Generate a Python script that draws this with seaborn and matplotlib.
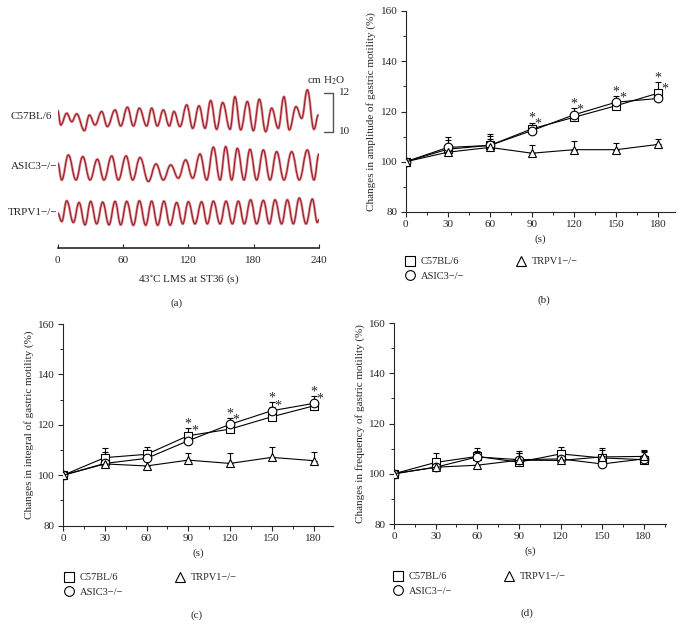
# Registro de motilidad gastrica y cambios porcentuales (a)-(d)

import numpy as np
import pandas as pd
import seaborn as sns
import matplotlib.pyplot as plt
from matplotlib.path import Path
from matplotlib.patches import PathPatch
from matplotlib.lines import Line2D

# ---- datos ----
cepas = ["C57BL/6", "ASIC3\u2212/\u2212", "TRPV1\u2212/\u2212"]
marcadores = {cepas[0]: "s", cepas[1]: "o", cepas[2]: "^"}
tiempos = [0, 30, 60, 90, 120, 150, 180]
estrellas = [90, 120, 150, 180]

# (b) amplitud
amp_c57 = [100, 105.0, 106.5, 113.1, 117.7, 122.3, 127.3]
amp_asic3 = [100, 105.7, 106.5, 112.4, 118.7, 123.7, 125.2]
amp_trpv1 = [100, 103.8, 105.7, 103.4, 104.8, 104.8, 106.9]
amp_err_c57 = [0, 3.7, 3.8, 2.5, 2.3, 2.7, 4.4]
amp_err_asic3 = [0, 4.3, 4.5, 2.1, 2.6, 2.3, 1.8]
amp_err_trpv1 = [0, 3.2, 3.3, 3.1, 3.3, 2.6, 2.0]

# (c) integral
int_c57 = [100, 107.0, 108.3, 115.7, 118.3, 123.2, 127.5]
int_asic3 = [100, 104.7, 106.7, 113.7, 120.2, 125.6, 128.5]
int_trpv1 = [100, 104.5, 103.7, 106.0, 104.7, 107.1, 105.8]
int_err_c57 = [0, 3.7, 3.0, 2.9, 2.7, 3.8, 2.5]
int_err_asic3 = [0, 4.5, 3.3, 2.3, 2.4, 3.6, 2.9]
int_err_trpv1 = [0, 2.5, 3.3, 3.0, 4.3, 4.2, 3.6]

# (d) frecuencia
frec_c57 = [100, 104.5, 106.9, 104.6, 107.9, 106.3, 105.6]
frec_asic3 = [100, 102.6, 106.7, 105.6, 105.9, 103.9, 105.9]
frec_trpv1 = [100, 102.6, 103.4, 105.4, 105.3, 106.7, 106.9]
frec_err_c57 = [0, 3.8, 3.3, 3.5, 2.7, 3.0, 3.0]
frec_err_asic3 = [0, 2.4, 2.3, 3.6, 3.0, 3.0, 3.0]
frec_err_trpv1 = [0, 2.4, 2.6, 3.0, 3.0, 3.5, 2.6]

# (a) trazos de presion (cm H2O), extremos
t_c57 = [0, 2.8, 8.3, 12.9, 17.4, 24.5, 29.1, 34.3, 40.4, 45.6, 52.7, 57.9, 64.0, 69.5,
         75.0, 81.7, 86.3, 91.5, 97.0, 102.5, 106.8, 112.3, 118.5, 124.0, 129.8, 135.3,
         140.5, 146.0, 151.5, 158.3, 162.8, 168.1, 174.2, 179.7, 185.2, 191.0, 196.5,
         202.6, 207.8, 212.7, 218.9, 224.1, 229.3, 235.4, 239.4]
p_c57 = [11.08, 10.34, 10.94, 10.51, 10.91, 10.05, 10.85, 10.34, 11.03, 10.26, 11.11, 10.29,
         11.25, 10.29, 11.20, 10.29, 11.20, 10.29, 11.11, 10.29, 11.03, 10.26, 11.37, 10.17,
         11.32, 10.17, 11.59, 10.12, 11.49, 10.12, 11.79, 10.09, 11.54, 10.05, 11.66, 10.00,
         11.20, 10.17, 11.79, 10.09, 11.28, 10.68, 12.14, 10.12, 10.85]

t_asic3 = [0, 3.7, 9.8, 16.8, 23.0, 29.7, 36.4, 42.5, 49.6, 55.7, 62.8, 68.9, 75.6, 83.3,
           90.3, 97.0, 103.8, 110.8, 117.5, 124.0, 130.7, 136.8, 143.0, 149.1, 154.3, 159.8,
           165.0, 171.1, 176.6, 182.7, 188.9, 195.0, 201.1, 207.8, 214.9, 221.9, 229.3,
           235.4, 240]
p_asic3 = [11.03, 10.17, 11.45, 10.17, 11.37, 10.17, 11.23, 10.17, 11.40, 10.17, 11.40, 10.17,
           11.32, 10.09, 10.99, 10.17, 10.94, 10.26, 11.20, 10.26, 11.50, 10.17, 11.85, 10.17,
           11.88, 10.17, 11.79, 10.17, 11.74, 10.17, 11.71, 10.17, 11.62, 10.17, 11.62, 10.17,
           11.71, 10.17, 11.50]

t_trpv1 = [0, 3.7, 8.3, 14.4, 19.6, 25.1, 30.3, 35.8, 41.3, 47.1, 52.7, 57.9, 63.4, 69.5,
           75.0, 80.8, 86.3, 91.8, 97.6, 103.2, 109.3, 114.8, 120.0, 126.1, 132.2, 137.4,
           143.0, 149.1, 154.6, 160.4, 165.9, 171.4, 177.2, 182.7, 188.9, 194.4, 199.6,
           205.7, 210.9, 216.4, 221.9, 228.1, 233.9, 238.5, 240]
p_trpv1 = [10.72, 10.29, 11.35, 10.24, 11.26, 10.12, 11.32, 10.17, 11.28, 10.12, 11.32, 10.12,
           11.32, 10.10, 11.35, 10.10, 11.33, 10.10, 11.33, 10.10, 11.26, 10.17, 11.30, 10.17,
           11.30, 10.17, 11.33, 10.17, 11.33, 10.17, 11.33, 10.17, 11.40, 10.17, 11.37, 10.17,
           11.40, 10.17, 11.40, 10.17, 11.49, 10.17, 11.44, 10.24, 10.38]

escala_cm = [10, 12]
ticks_a = [0, 60, 120, 180, 240]

# ---- estilo ----
sns.set_style("ticks")
plt.rcParams["font.family"] = ["Liberation Serif", "DejaVu Serif"]
plt.rcParams["mathtext.fontset"] = "stix"
plt.rcParams["axes.linewidth"] = 0.8

fig = plt.figure(figsize=(6.84, 6.28), dpi=100)
W, H = 684.0, 628.0


def caja(izq, arriba, der, abajo):
    return [izq / W, 1 - abajo / H, (der - izq) / W, (abajo - arriba) / H]


def trazo_suave(ax, t, p, desplaz, **kw):
    verts = [(t[0], p[0] + desplaz)]
    codes = [Path.MOVETO]
    for i in range(len(t) - 1):
        d = (t[i + 1] - t[i]) * 0.4
        verts += [(t[i] + d, p[i] + desplaz), (t[i + 1] - d, p[i + 1] + desplaz),
                  (t[i + 1], p[i + 1] + desplaz)]
        codes += [Path.CURVE4] * 3
    ax.add_patch(PathPatch(Path(verts, codes), fill=False, **kw))


# ---- (a) ----
ax_a = fig.add_axes(caja(57.7, 70, 319, 248))
desplazamientos = [0, -2.65, -4.9]
trazos = [(t_c57, p_c57), (t_asic3, p_asic3), (t_trpv1, p_trpv1)]
for (t, p), dz, nombre, sep in zip(trazos, desplazamientos, cepas, [5, 0.5, 0.5]):
    trazo_suave(ax_a, t, p, dz, edgecolor="#dc959a", lw=1.9, capstyle="round")
    trazo_suave(ax_a, t, p, dz, edgecolor="#9c1c26", lw=0.8)
    ax_a.text(-sep, np.mean(p) + dz, nombre, ha="right", va="center", fontsize=8)

ax_a.plot([244.6, 252.9, 252.9, 244.6], [escala_cm[1], escala_cm[1], escala_cm[0], escala_cm[0]],
          color="#555555", lw=1.0, clip_on=False)
ax_a.text(258, escala_cm[1], str(escala_cm[1]), ha="left", va="center", fontsize=8)
ax_a.text(258, escala_cm[0], str(escala_cm[0]), ha="left", va="center", fontsize=8)
ax_a.text(247, 12.6, "cm H$_2$O", ha="center", va="center", fontsize=8)

ax_a.set_xlim(0, 240)
ax_a.set_ylim(4.03, 13.16)
ax_a.set_xticks(ticks_a)
ax_a.set_yticks([])
sns.despine(ax=ax_a, left=True)
ax_a.spines["bottom"].set_linewidth(1.2)
ax_a.tick_params(axis="x", direction="in", length=3, labelsize=8, pad=6)
ax_a.set_xlabel("43$^{\\circ}$C LMS at ST36 (s)", fontsize=8, labelpad=5)


# ---- (b), (c), (d) ----
def panel(ax, valores, errores, xmax, etiqueta_y, con_estrellas):
    for v, e in zip(valores, errores):
        ax.errorbar(tiempos, v, yerr=[np.zeros(len(e)), e], fmt="none", ecolor="black",
                    elinewidth=0.8, capsize=2.4, capthick=0.8, zorder=2)
    df = pd.DataFrame({
        "tiempo": tiempos * 3,
        "valor": valores[0] + valores[1] + valores[2],
        "cepa": np.repeat(cepas, len(tiempos)),
    })
    sns.lineplot(data=df, x="tiempo", y="valor", style="cepa", markers=marcadores,
                 dashes=False, color="black", markerfacecolor="white",
                 markeredgecolor="black", markeredgewidth=0.8, markersize=6.2,
                 linewidth=0.8, legend=False, ax=ax, zorder=3)
    if con_estrellas:
        for x in estrellas:
            i = tiempos.index(x)
            tope = max(valores[0][i] + errores[0][i], valores[1][i] + errores[1][i])
            ax.text(x, tope + 1.6, "*", ha="center", va="center", fontsize=10)
            ax.text(x + 4.5, max(valores[0][i], valores[1][i]) + 1.8, "*",
                    ha="center", va="center", fontsize=10)
    ax.set_xlim(0, xmax)
    ax.set_ylim(80, 160)
    ax.set_xticks(tiempos)
    ax.set_xticks(np.arange(15, xmax, 30), minor=True)
    ax.set_yticks([80, 100, 120, 140, 160])
    ax.set_yticks([90, 110, 130, 150], minor=True)
    sns.despine(ax=ax)
    ax.tick_params(which="major", length=3.5, width=0.8, labelsize=8, pad=2.5)
    ax.tick_params(which="minor", length=2, width=0.7)
    ax.set_xlabel("(s)", fontsize=8, labelpad=4)
    ax.set_ylabel(etiqueta_y, fontsize=8, labelpad=3)

    handles = [Line2D([], [], ls="none", marker=marcadores[c], markerfacecolor="white",
                      markeredgecolor="black", markeredgewidth=0.8, markersize=7)
               for c in cepas]
    return handles


paneles = [
    (caja(405.7, 11, 675, 212), [amp_c57, amp_asic3, amp_trpv1],
     [amp_err_c57, amp_err_asic3, amp_err_trpv1], 192,
     "Changes in amplitude of gastric motility (%)", True, (405, 257), "(b)", (544, 300)),
    (caja(63, 324, 333, 525.7), [int_c57, int_asic3, int_trpv1],
     [int_err_c57, int_err_asic3, int_err_trpv1], 194,
     "Changes in integral of gastric motility (%)", True, (64, 573), "(c)", (197, 615)),
    (caja(394, 323, 666, 524), [frec_c57, frec_asic3, frec_trpv1],
     [frec_err_c57, frec_err_asic3, frec_err_trpv1], 196,
     "Changes in frequency of gastric motility (%)", False, (393, 572), "(d)", (527, 613)),
]

for pos, vals, errs, xmax, ylab, est, ley, letra, pos_letra in paneles:
    ax = fig.add_axes(pos)
    handles = panel(ax, vals, errs, xmax, ylab, est)
    ax.legend(handles, cepas, ncol=2, loc="upper left",
              bbox_to_anchor=(ley[0] / W, 1 - ley[1] / H), bbox_transform=fig.transFigure,
              frameon=False, fontsize=7.5, handlelength=1.0, handletextpad=0.5,
              columnspacing=5.0, labelspacing=0.5, borderpad=0, borderaxespad=0)
    fig.text(pos_letra[0] / W, 1 - pos_letra[1] / H, letra, ha="center", va="center",
             fontsize=8)

fig.text(177 / W, 1 - 303 / H, "(a)", ha="center", va="center", fontsize=8)

fig.savefig("out.png", dpi=100)
